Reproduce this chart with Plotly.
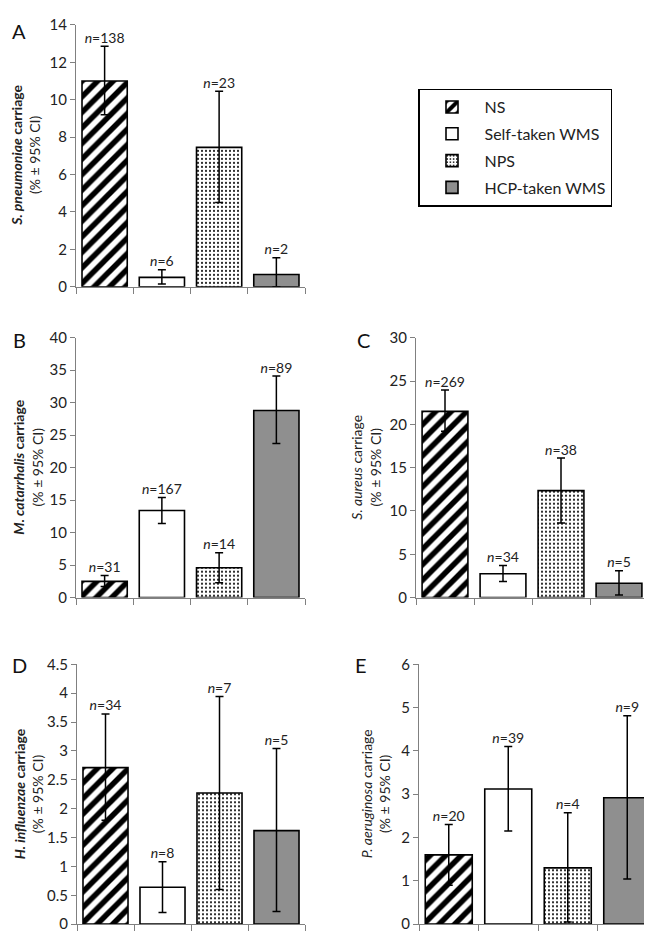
import plotly.graph_objects as go

# ---------------- data ----------------
sample_types = ["NS", "Self-taken WMS", "NPS", "HCP-taken WMS"]

spn_val = [11.0, 0.5, 7.45, 0.65]
spn_lo = [9.2, 0.15, 4.5, 0.0]
spn_hi = [12.85, 0.9, 10.45, 1.55]
spn_n = [138, 6, 23, 2]

mcat_val = [2.5, 13.4, 4.6, 28.8]
mcat_lo = [1.7, 11.4, 2.3, 23.7]
mcat_hi = [3.4, 15.4, 6.9, 34.1]
mcat_n = [31, 167, 14, 89]

sau_val = [21.5, 2.75, 12.35, 1.65]
sau_lo = [19.2, 1.85, 8.6, 0.3]
sau_hi = [23.95, 3.7, 16.1, 3.1]
sau_n = [269, 34, 38, 5]

hin_val = [2.71, 0.64, 2.27, 1.62]
hin_lo = [1.8, 0.2, 0.6, 0.22]
hin_hi = [3.64, 1.08, 3.94, 3.04]
hin_n = [34, 8, 7, 5]

pae_val = [1.6, 3.12, 1.3, 2.92]
pae_lo = [0.9, 2.15, 0.05, 1.04]
pae_hi = [2.3, 4.1, 2.57, 4.81]
pae_n = [20, 39, 4, 9]

panel_letters = ["A", "B", "C", "D", "E"]
species = ["S. pneumoniae", "M. catarrhalis", "S. aureus", "H. influenzae", "P. aeruginosa"]
y_max = [14, 40, 30, 4.5, 6]
y_dtick = [2, 5, 5, 0.5, 1]

# ---------------- styling ----------------
W, H = 652, 932
FONT = "Lato"
AXIS_COL = "#808080"

# category index positions (one slot per sample type)
x_pos = list(range(len(sample_types)))
x_bounds = [i - 0.5 for i in range(len(sample_types) + 1)]

# panel pixel boxes: (x0, x1, ytop, ybottom)
boxes = [
    (68, 297, 7, 274),
    (68, 297, 326, 591),
    (408, 640, 326, 591),
    (69, 297, 659, 924),
    (411, 649, 659, 924),
]
title_x = [18, 20, 358, 20, 367]
letter_pos = [(11, 13), (11, 328), (355, 328), (11, 660), (353, 660)]
bold_title = [True, True, False, True, False]

styles = [
    dict(color="white", pattern=dict(shape="/", fgcolor="black", bgcolor="white",
                                      fgopacity=1, size=11, solidity=0.5,
                                      fillmode="overlay")),
    dict(color="white"),
    dict(color="white", pattern=dict(shape=".", fgcolor="black", bgcolor="white",
                                      fgopacity=1, size=4, solidity=0.22,
                                      fillmode="overlay")),
    dict(color="#8f8f8f"),
]

panels = [
    (spn_val, spn_lo, spn_hi, spn_n),
    (mcat_val, mcat_lo, mcat_hi, mcat_n),
    (sau_val, sau_lo, sau_hi, sau_n),
    (hin_val, hin_lo, hin_hi, hin_n),
    (pae_val, pae_lo, pae_hi, pae_n),
]

fig = go.Figure()
annotations = []

for p, (vals, lo, hi, ns) in enumerate(panels):
    ax = "" if p == 0 else str(p + 1)
    xref, yref = "x" + ax, "y" + ax
    for i, st in enumerate(sample_types):
        fig.add_trace(go.Bar(
            x=[x_pos[i]], y=[vals[i]],
            name=st, legendgroup=st, showlegend=(p == 0),
            marker=dict(line=dict(color="black", width=1.6), **styles[i]),
            error_y=dict(type="data", symmetric=False,
                         array=[hi[i] - vals[i]], arrayminus=[vals[i] - lo[i]],
                         color="black", thickness=1.5, width=4),
            xaxis=xref, yaxis=yref, hoverinfo="skip",
        ))
    fig.add_trace(go.Scatter(
        x=x_pos, y=hi, mode="text",
        text=[f"<i>n</i>={n}" for n in ns], textposition="top center",
        textfont=dict(family=FONT, size=14, color="#222"),
        showlegend=False, cliponaxis=False, xaxis=xref, yaxis=yref, hoverinfo="skip",
    ))

    x0, x1, yt, yb = boxes[p]
    xa = dict(domain=[x0 / W, x1 / W], range=[x_bounds[0], x_bounds[-1]],
              showline=True, linecolor=AXIS_COL, linewidth=1.2,
              ticks="outside", tickmode="array", tickvals=x_bounds,
              showticklabels=False, ticklen=6, tickwidth=1.2, tickcolor=AXIS_COL,
              showgrid=False, zeroline=False,
              anchor=yref, fixedrange=True)
    ya = dict(domain=[1 - yb / H, 1 - yt / H], range=[0, y_max[p]], dtick=y_dtick[p],
              showline=True, linecolor=AXIS_COL, linewidth=1.2, ticks="outside",
              ticklen=5, tickwidth=1.2, tickcolor=AXIS_COL, showgrid=False, zeroline=False,
              tickfont=dict(family=FONT, size=15, color="#222"),
              anchor=xref, fixedrange=True)
    fig.layout["xaxis" + ax] = xa
    fig.layout["yaxis" + ax] = ya

    sp = f"<i>{species[p]}</i> carriage"
    if bold_title[p]:
        sp = f"<b>{sp}</b>"
    annotations.append(dict(
        x=title_x[p] / W, y=1 - (yt + yb) / 2 / H, xref="paper", yref="paper",
        text=sp + "<br>(% ± 95% CI)", textangle=-90, showarrow=False,
        font=dict(family=FONT, size=14, color="#222"), xanchor="center", yanchor="middle",
    ))
    lx, ly = letter_pos[p]
    annotations.append(dict(
        x=lx / W, y=1 - ly / H, xref="paper", yref="paper", text=panel_letters[p],
        showarrow=False, font=dict(family=FONT, size=20, color="#111"),
        xanchor="center", yanchor="middle",
    ))

fig.update_layout(
    width=W, height=H, margin=dict(l=0, r=0, t=0, b=0),
    paper_bgcolor="white", plot_bgcolor="white",
    barmode="overlay", bargap=0.21,
    annotations=annotations,
    legend=dict(x=410 / W, y=1 - 72 / H, xanchor="left", yanchor="top",
                bordercolor="black", borderwidth=1.5, bgcolor="white",
                font=dict(family=FONT, size=16, color="#222"),
                traceorder="grouped", tracegroupgap=3, itemwidth=55),
    showlegend=True,
)

fig.write_html("out.html")
